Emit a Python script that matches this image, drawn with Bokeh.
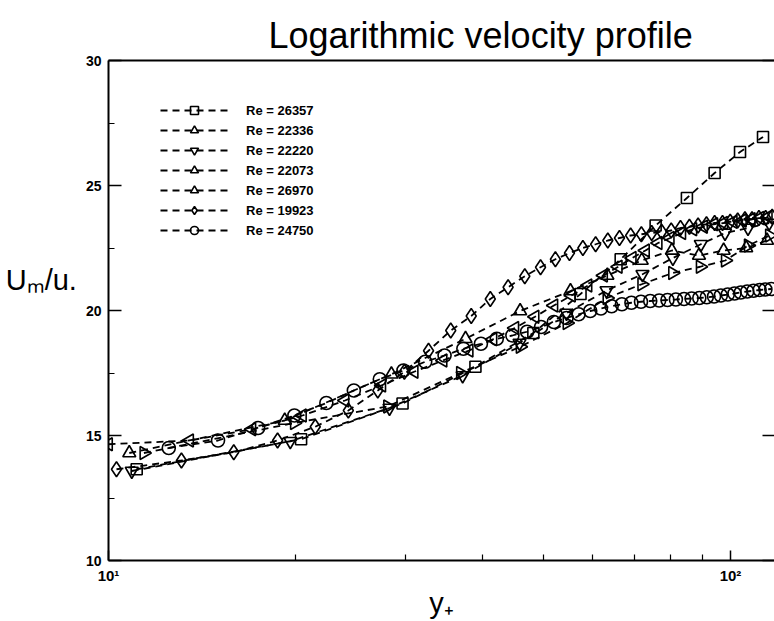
import math
from bokeh.plotting import figure
from bokeh.models import FixedTicker, LinearAxis, LogAxis, Legend, LegendItem
from bokeh.embed import file_html
from bokeh.resources import INLINE

# ---------------- data ----------------
labels = ["Re = 26357", "Re = 22336", "Re = 22220", "Re = 22073",
          "Re = 26970", "Re = 19923", "Re = 24750"]

x_26357 = [11.1, 20.4, 29.7, 38.9, 48.2, 57.4, 66.6, 75.8, 85.1, 94.3, 103.6, 112.8]
y_26357 = [13.65, 14.85, 16.28, 17.75, 19.1, 20.66, 22.05, 23.4, 24.5, 25.5, 26.34, 26.94]

x_22336 = [10.8, 19.2, 28.5, 37.5, 45.9, 55.3, 63.4, 72.0, 80.5, 89.0, 97.5, 106.0, 114.5]
y_22336 = [14.3, 15.6, 17.45, 18.87, 19.98, 20.78, 21.4, 22.0, 22.4, 22.2, 22.4, 22.5, 22.8]

x_22220 = [10.9, 19.6, 28.3, 37.1, 45.8, 54.5, 63.2, 72.2, 80.8, 89.6, 98.0, 106.7, 115.4]
y_22220 = [13.58, 14.77, 16.1, 17.4, 18.7, 19.9, 20.8, 21.45, 22.1, 22.65, 23.1, 23.3, 23.5]

x_22073 = [11.4, 19.9, 28.1, 36.8, 45.9, 54.6, 63.3, 72.0, 80.7, 89.4, 98.1, 106.8, 115.5]
y_22073 = [14.3, 15.5, 16.16, 17.5, 18.55, 19.5, 20.5, 21.05, 21.5, 21.75, 22.0, 22.6, 23.0]

x_26970 = [10.0, 13.5, 17.0, 20.5, 24.0, 27.5, 31.0, 34.5, 38.0, 41.5, 45.0, 48.5, 52.0,
           55.5, 59.0, 62.5, 66.0, 69.5, 73.0, 76.5, 80.0, 83.5, 87.0, 90.5, 94.0, 97.5,
           101.0, 104.5, 108.0, 111.5, 115.0]
y_26970 = [14.65, 14.8, 15.25, 15.8, 16.4, 17.0, 17.55, 18.0, 18.4, 18.85, 19.3, 19.75, 20.2,
           20.6, 21.0, 21.4, 21.75, 22.1, 22.4, 22.7, 22.9, 23.1, 23.25, 23.35, 23.45, 23.5,
           23.55, 23.6, 23.65, 23.7, 23.75]

x_19923 = [10.3, 13.1, 15.9, 18.7, 21.5, 24.3, 27.1, 29.9, 32.7, 35.5, 38.3, 41.1, 43.9,
           46.7, 49.5, 52.3, 55.1, 57.9, 60.7, 63.5, 66.3, 69.1, 71.9, 74.7, 77.5, 80.3,
           83.1, 85.9, 88.7, 91.5, 94.3, 97.1, 99.9, 102.7, 105.5, 108.3, 111.1, 113.9, 116.7]
y_19923 = [13.65, 14.0, 14.33, 14.8, 15.35, 16.0, 16.8, 17.55, 18.39, 19.2, 19.78, 20.46, 20.93,
           21.37, 21.73, 22.05, 22.3, 22.5, 22.65, 22.8, 22.9, 23.0, 23.05, 23.1, 23.15, 23.2,
           23.3, 23.35, 23.4, 23.45, 23.5, 23.5, 23.55, 23.6, 23.65, 23.65, 23.7, 23.7, 23.75]

x_24750 = [12.5, 15.0, 17.4, 19.9, 22.4, 24.8, 27.3, 29.8, 32.3, 34.7, 37.2, 39.7, 42.1,
           44.6, 47.1, 49.6, 52.0, 54.5, 57.0, 59.5, 61.9, 64.4, 66.9, 69.3, 71.8, 74.3,
           76.8, 79.2, 81.7, 84.2, 86.6, 89.1, 91.6, 94.1, 96.5, 99.0, 101.5, 103.9, 106.4,
           108.9, 111.4, 113.8, 116.3]
y_24750 = [14.5, 14.8, 15.3, 15.8, 16.3, 16.8, 17.25, 17.6, 17.95, 18.2, 18.47, 18.67, 18.87,
           19.0, 19.15, 19.34, 19.54, 19.7, 19.85, 19.98, 20.08, 20.17, 20.25, 20.31, 20.35, 20.38,
           20.4, 20.42, 20.44, 20.46, 20.48, 20.5, 20.53, 20.56, 20.6, 20.64, 20.68, 20.72, 20.76,
           20.79, 20.82, 20.84, 20.86]

x_major = [10, 100]
x_minor = [20, 30, 40, 50, 60, 70, 80, 90]
x_tick_labels = {10: "10\u00b9", 100: "10\u00b2"}
y_major = [10, 15, 20, 25, 30]
y_minor = [12.5, 17.5, 22.5, 27.5]

# ---------------- figure ----------------
FONT = "Liberation Sans"

p = figure(width=774, height=621, x_axis_type="log", x_range=(10, 117.7), y_range=(10, 30),
           output_backend="svg", toolbar_location=None,
           min_border_left=108, min_border_right=0, min_border_top=60, min_border_bottom=59)
p.outline_line_color = None
p.xgrid.visible = False
p.ygrid.visible = False
p.background_fill_color = "white"
p.border_fill_color = "white"

p.title.text = "Logarithmic velocity profile"
p.title.text_font = FONT
p.title.text_font_style = "normal"
p.title.text_font_size = "36px"
p.title.text_color = "black"
p.title.align = "left"
p.title.offset = 160
p.title.standoff = 9


def style_axis(ax, labels_on=True, line=True, tick_in=12, minor_in=6):
    ax.axis_line_width = 2
    ax.axis_line_color = "black" if line else "white"
    ax.axis_line_alpha = 1.0 if line else 0.0
    ax.major_tick_in = tick_in
    ax.major_tick_out = 0
    ax.minor_tick_in = minor_in
    ax.minor_tick_out = 0
    ax.major_tick_line_width = 1.5
    ax.minor_tick_line_width = 1.2
    ax.major_tick_line_color = "black"
    ax.minor_tick_line_color = "black"
    if labels_on:
        ax.major_label_text_font = FONT
        ax.major_label_text_font_style = "bold"
        ax.major_label_text_font_size = "14px"
        ax.major_label_text_color = "black"
    else:
        ax.major_label_text_font_size = "1px"
        ax.major_label_text_alpha = 0.0
        ax.major_label_standoff = 0


xax = p.xaxis[0]
xax.ticker = FixedTicker(ticks=x_major, minor_ticks=x_minor)
xax.major_label_overrides = x_tick_labels
style_axis(xax, tick_in=10, minor_in=6)
xax.major_label_text_font_size = "15px"
xax.major_label_standoff = 6
xax.axis_label = "y\u208a"
xax.axis_label_text_font = FONT
xax.axis_label_text_font_style = "normal"
xax.axis_label_text_font_size = "29px"
xax.axis_label_text_color = "black"
xax.axis_label_standoff = 0

yax = p.yaxis[0]
yax.ticker = FixedTicker(ticks=y_major, minor_ticks=y_minor)
style_axis(yax, tick_in=13, minor_in=6)
yax.major_label_standoff = 7
# the reference's label sits a little above the middle of the frame:
# a blank second line lifts it
yax.axis_label = "U\u2098/u.\n\u00a0"
yax.axis_label_orientation = "horizontal"
yax.axis_label_text_font = FONT
yax.axis_label_text_font_style = "normal"
yax.axis_label_text_font_size = "29px"
yax.axis_label_text_color = "black"
yax.axis_label_text_line_height = 1.9
yax.axis_label_standoff = 6

top = LogAxis(ticker=FixedTicker(ticks=x_major, minor_ticks=x_minor))
style_axis(top, labels_on=False, tick_in=0, minor_in=0)
p.add_layout(top, "above")

right = LinearAxis(ticker=FixedTicker(ticks=y_major, minor_ticks=y_minor))
style_axis(right, labels_on=False, line=False, tick_in=12, minor_in=0)
p.add_layout(right, "right")

# ---------------- series ----------------
series = [
    (x_26357, y_26357, "square", 0.0, 11),
    (x_22336, y_22336, "triangle", 0.0, 13),
    (x_22220, y_22220, "inverted_triangle", 0.0, 13),
    (x_22073, y_22073, "triangle", -math.pi / 2, 13),
    (x_26970, y_26970, "triangle", math.pi / 2, 13),
    (x_19923, y_19923, "diamond", 0.0, 15),
    (x_24750, y_24750, "circle", 0.0, 13),
]

items = []
for (xs, ys, mk, ang, sz), lab in zip(series, labels):
    ln = p.line(xs, ys, line_color="black", line_width=1.8, line_dash="7 5")
    sc = p.scatter(xs, ys, marker=mk, angle=ang, size=sz, fill_color=None,
                   line_color="black", line_width=1.6)
    items.append(LegendItem(label=lab, renderers=[ln, sc]))

legend = Legend(items=items, location=(52, 320))
legend.border_line_color = None
legend.background_fill_alpha = 0
legend.padding = 0
legend.margin = 0
legend.spacing = 0
legend.glyph_height = 20
legend.label_height = 20
legend.glyph_width = 68
legend.label_standoff = 18
legend.label_text_font = FONT
legend.label_text_font_style = "bold"
legend.label_text_font_size = "13px"
legend.label_text_color = "black"
p.add_layout(legend)

open("out.html", "w").write(file_html(p, INLINE))
